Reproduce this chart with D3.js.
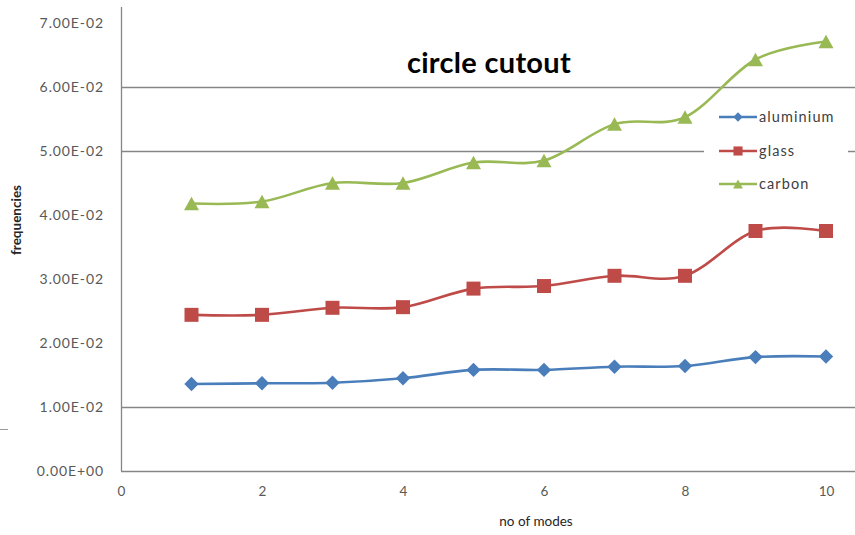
<!DOCTYPE html>
<html>
<head>
<meta charset="utf-8">
<script src="https://cdn.jsdelivr.net/npm/d3@7"></script>
<style>
  html, body { margin: 0; padding: 0; background: #fff; }
  svg { display: block; }
</style>
</head>
<body>
<svg id="chart" width="855" height="535"></svg>
<script>
// Natural frequencies of a plate with a circular cutout, per mode number
const modes = [1, 2, 3, 4, 5, 6, 7, 8, 9, 10];
const aluminium = [0.0136, 0.0137, 0.0138, 0.0145, 0.0158, 0.0158, 0.0163, 0.0164, 0.0178, 0.0179];
const glass     = [0.0244, 0.0244, 0.0255, 0.0256, 0.0285, 0.0289, 0.0305, 0.0305, 0.0375, 0.0375];
const carbon    = [0.0418, 0.0421, 0.0450, 0.0450, 0.0482, 0.0485, 0.0542, 0.0553, 0.0643, 0.0671];
const seriesNames = ["aluminium", "glass", "carbon"];
const xTicks = [0, 2, 4, 6, 8, 10];
const yTicks = [0, 0.01, 0.02, 0.03, 0.04, 0.05, 0.06, 0.07];
const gridValues = [0.01, 0.05, 0.06];

const svg = d3.select("#chart");
const W = 855, H = 535;
const left = 121, bottom = 471;

const x = d3.scaleLinear().domain([0, 10]).range([left, 826]);
const y = d3.scaleLinear().domain([0, 0.07]).range([bottom, 23]);

const axisColor = "#868686";
const labelFont = "Lato, 'Open Sans', sans-serif";

// Horizontal gridlines
svg.append("g").selectAll("line").data(gridValues).join("line")
  .attr("x1", left).attr("x2", W)
  .attr("y1", d => Math.round(y(d)) + 0.5).attr("y2", d => Math.round(y(d)) + 0.5)
  .attr("stroke", axisColor).attr("stroke-width", 1.3);

// Scientific tick format, e.g. 7.00E-02
const sci = d => {
  if (d === 0) return "0.00E+00";
  const [m, e] = d3.format(".2e")(d).split("e");
  const n = +e;
  return m + "E" + (n < 0 ? "-" : "+") + String(Math.abs(n)).padStart(2, "0");
};

// Y axis (labels only, axis line drawn separately)
const yAxis = d3.axisLeft(y).tickValues(yTicks).tickSize(0).tickPadding(0).tickFormat(sci);
const gy = svg.append("g").attr("transform", `translate(104,0)`).call(yAxis);
gy.select(".domain").remove();
gy.selectAll("text").attr("font-family", labelFont).attr("font-size", 14)
  .attr("letter-spacing", 0.9)
  .attr("fill", "#595959").attr("dy", "0.35em");

// X axis (labels only)
const xAxis = d3.axisBottom(x).tickValues(xTicks).tickSize(0).tickPadding(0);
const gx = svg.append("g").attr("transform", `translate(0,486)`).call(xAxis);
gx.select(".domain").remove();
gx.selectAll("text").attr("font-family", labelFont).attr("font-size", 13.5)
  .attr("fill", "#595959");

// Axis lines
svg.append("line").attr("x1", left + 0.5).attr("x2", left + 0.5).attr("y1", 7).attr("y2", bottom)
  .attr("stroke", axisColor).attr("stroke-width", 1.3);
svg.append("line").attr("x1", left).attr("x2", W).attr("y1", bottom + 0.5).attr("y2", bottom + 0.5)
  .attr("stroke", axisColor).attr("stroke-width", 1.3);

// Small stray tick at the left edge
svg.append("line").attr("x1", 0).attr("x2", 8).attr("y1", 429.5).attr("y2", 429.5)
  .attr("stroke", "#9a9a9a").attr("stroke-width", 1);

// Axis titles
svg.append("text").attr("x", 536).attr("y", 526).attr("text-anchor", "middle")
  .attr("font-family", labelFont).attr("font-size", 13.5).attr("fill", "#262626")
  .text("no of modes");
svg.append("text").attr("transform", "translate(21,220) rotate(-90)").attr("text-anchor", "middle")
  .attr("font-family", labelFont).attr("font-size", 13.5).attr("font-weight", "bold").attr("fill", "#262626")
  .text("frequencies");

// Chart title
svg.append("text").attr("x", 489).attr("y", 73).attr("text-anchor", "middle")
  .attr("font-family", labelFont).attr("font-size", 29).attr("font-weight", "bold").attr("fill", "#000")
  .attr("letter-spacing", 0.3)
  .text("circle cutout");

// Legend background
svg.append("rect").attr("x", 704).attr("y", 100).attr("width", 144).attr("height", 100).attr("fill", "#fff");

const colors = ["#4A7EBB", "#BE4B48", "#98B954"];
const data = [aluminium, glass, carbon];

const line = d3.line().x((d, i) => x(modes[i])).y(d => y(d)).curve(d3.curveCardinal.tension(0));

// Marker outlines: diamond, square, triangle; r is the half-width
const markerPath = (k, r) => {
  if (k === 0) return `M0,${-r}L${r},0L0,${r}L${-r},0Z`;
  if (k === 1) return `M${-r},${-r}H${r}V${r}H${-r}Z`;
  const h = r * 0.9;
  return `M0,${-h}L${r},${h}L${-r},${h}Z`;
};
const markerR = [7.2, 7, 7.5];

data.forEach((vals, k) => {
  svg.append("path").datum(vals).attr("d", line)
    .attr("fill", "none").attr("stroke", colors[k]).attr("stroke-width", 2.6)
    .attr("stroke-linejoin", "round");
  svg.append("g").selectAll("path").data(vals).join("path")
    .attr("transform", (d, i) => `translate(${x(modes[i])},${y(d)})`)
    .attr("d", markerPath(k, markerR[k]))
    .attr("fill", colors[k]);
});

// Legend entries
const legendY = [117, 151, 184];
seriesNames.forEach((name, k) => {
  const g = svg.append("g").attr("transform", `translate(0,${legendY[k]})`);
  g.append("line").attr("x1", 719).attr("x2", 757).attr("y1", 0).attr("y2", 0)
    .attr("stroke", colors[k]).attr("stroke-width", 2.6);
  g.append("path").attr("transform", `translate(738,0)`)
    .attr("d", markerPath(k, markerR[k] * 0.65)).attr("fill", colors[k]);
  g.append("text").attr("x", 759).attr("y", 0).attr("dy", "0.35em")
    .attr("font-family", labelFont).attr("font-size", 14.5).attr("fill", "#404040")
    .attr("letter-spacing", 1.1)
    .text(name);
});
</script>
</body>
</html>
